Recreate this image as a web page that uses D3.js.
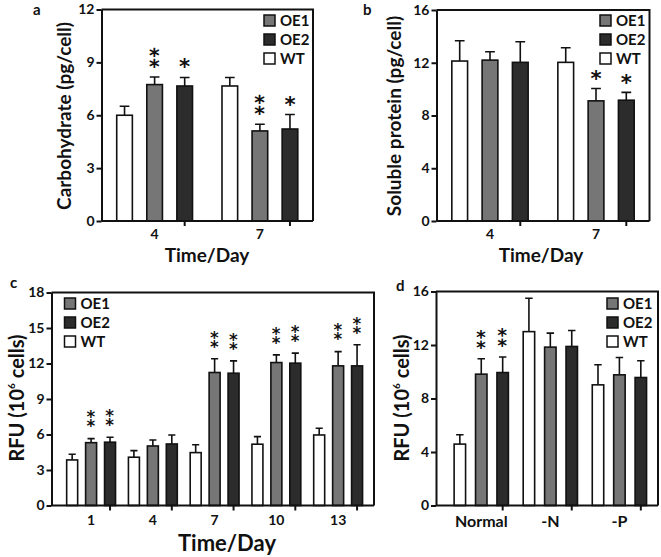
<!DOCTYPE html>
<html><head><meta charset="utf-8">
<script src="https://cdn.jsdelivr.net/npm/d3@7"></script>
<style>
body{margin:0;background:#fff}
svg{display:block}
text{font-family:Lato,"Open Sans",sans-serif;font-weight:bold;fill:#111}
</style>
</head><body>
<script>
// ---------- data ----------
const legendNames = ["OE1", "OE2", "WT"];
const barOrder = ["WT", "OE1", "OE2"];
const fillColors = { OE1: "#767676", OE2: "#2c2c2c", WT: "#ffffff" };

// Panel a: carbohydrate
const aCategories = ["4", "7"];
const aWT = [6.0, 7.66], aWTsd = [0.51, 0.48];
const aOE1 = [7.74, 5.11], aOE1sd = [0.43, 0.38];
const aOE2 = [7.66, 5.22], aOE2sd = [0.48, 0.82];
const aStarsOE1 = ["**", "**"], aStarsOE2 = ["*", "*"];
const aTicks = [0, 3, 6, 9, 12];

// Panel b: soluble protein
const bCategories = ["4", "7"];
const bWT = [12.13, 12.03], bWTsd = [1.54, 1.11];
const bOE1 = [12.2, 9.11], bOE1sd = [0.63, 0.94];
const bOE2 = [12.03, 9.16], bOE2sd = [1.56, 0.59];
const bStarsOE1 = ["", "*"], bStarsOE2 = ["", "*"];
const bTicks = [0, 4, 8, 12, 16];

// Panel c: RFU over time
const cCategories = ["1", "4", "7", "10", "13"];
const cWT = [3.85, 4.08, 4.47, 5.18, 5.96], cWTsd = [0.48, 0.56, 0.67, 0.64, 0.57];
const cOE1 = [5.31, 5.03, 11.24, 12.08, 11.8], cOE1sd = [0.34, 0.51, 1.16, 0.65, 1.2];
const cOE2 = [5.35, 5.2, 11.18, 12.03, 11.8], cOE2sd = [0.42, 0.76, 1.04, 0.85, 1.78];
const cStarsOE1 = ["**", "", "**", "**", "**"], cStarsOE2 = ["**", "", "**", "**", "**"];
const cTicks = [0, 3, 6, 9, 12, 15, 18];

// Panel d: RFU under nutrient conditions
const dCategories = ["Normal", "-N", "-P"];
const dWT = [4.59, 13.0, 9.02], dWTsd = [0.7, 2.5, 1.5];
const dOE1 = [9.82, 11.84, 9.77], dOE1sd = [1.15, 1.05, 1.3];
const dOE2 = [9.94, 11.89, 9.57], dOE2sd = [1.16, 1.19, 1.25];
const dStarsOE1 = ["**", "", ""], dStarsOE2 = ["**", "", ""];
const dTicks = [0, 4, 8, 12, 16];

// ---------- drawing ----------
const svg = d3.select("body").append("svg").attr("width", 661).attr("height", 557);
const STAR_FONT = "'DejaVu Sans'";
const measureCtx = document.createElement("canvas").getContext("2d");
function glyphMetrics(ch) {
  measureCtx.font = `bold 100px ${STAR_FONT}`;
  const m = measureCtx.measureText(ch);
  return { asc: m.actualBoundingBoxAscent / 100, desc: m.actualBoundingBoxDescent / 100 };
}

function panel(cfg) {
  const g = svg.append("g");
  const x0 = d3.scaleBand().domain(cfg.categories).range([cfg.left, cfg.right])
    .paddingInner(cfg.pIn).paddingOuter(cfg.pOut).align(cfg.align);
  const x1 = d3.scaleBand().domain(barOrder).range([0, x0.bandwidth()])
    .paddingInner(cfg.bIn).paddingOuter(cfg.bIn / 2);
  const y = d3.scaleLinear().domain([0, d3.max(cfg.ticks)]).range([cfg.bottom, cfg.top]);

  const rows = [];
  cfg.categories.forEach((c, i) => {
    barOrder.forEach(s => {
      rows.push({ cat: c, s: s, v: cfg.values[s][i], sd: cfg.sds[s][i], star: (cfg.stars[s] || [])[i] || "" });
    });
  });
  const cx = d => x0(d.cat) + x1(d.s) + x1.bandwidth() / 2;

  // error bars (upper only)
  const capW = x1.bandwidth() * cfg.cap;
  g.selectAll(".eb").data(rows).join("path")
    .attr("d", d => `M${cx(d)},${y(d.v)}V${y(d.v + d.sd)}M${cx(d) - capW / 2},${y(d.v + d.sd)}H${cx(d) + capW / 2}`)
    .attr("stroke", "#111").attr("stroke-width", 1.6).attr("fill", "none");

  // bars
  g.selectAll(".bar").data(rows).join("rect")
    .attr("x", d => x0(d.cat) + x1(d.s))
    .attr("width", x1.bandwidth())
    .attr("y", d => y(d.v))
    .attr("height", d => y(0) - y(d.v))
    .attr("fill", d => fillColors[d.s])
    .attr("stroke", "#111").attr("stroke-width", 1.6);

  // significance stars: "*" or "⁑" (two asterisks stacked)
  rows.filter(d => d.star.length).forEach(d => {
    const ch = d.star.length === 2 ? "\u2051" : "*";
    const targetH = d.star.length === 2 ? cfg.star2H : cfg.star1H;
    const m = glyphMetrics(ch);
    const fs = targetH / (m.asc + m.desc);
    const glyphBottom = y(d.v + d.sd) - cfg.starGap;
    g.append("text").attr("text-anchor", "middle")
      .attr("x", cx(d)).attr("y", glyphBottom - m.desc * fs)
      .style("font-family", STAR_FONT).style("font-size", fs.toFixed(2) + "px")
      .text(ch);
  });

  // frame top + right
  g.append("path").attr("d", `M${cfg.left},${cfg.top}H${cfg.right}V${cfg.bottom}`)
    .attr("fill", "none").attr("stroke", "#111").attr("stroke-width", 2);

  // y axis
  const ya = g.append("g").attr("transform", `translate(${cfg.left},0)`)
    .call(d3.axisLeft(y).tickValues(cfg.ticks).tickSize(5).tickSizeOuter(0).tickPadding(2));
  ya.select(".domain").attr("stroke", "#111").attr("stroke-width", 2);
  ya.selectAll(".tick line").attr("stroke", "#111").attr("stroke-width", 2);
  ya.selectAll(".tick text").style("font-size", cfg.tickFont + "px").style("font-family", "Lato").style("font-weight", "bold").attr("fill", "#111");

  // x axis
  const xa = g.append("g").attr("transform", `translate(0,${cfg.bottom})`)
    .call(d3.axisBottom(x0).tickSize(0).tickSizeOuter(0).tickPadding(cfg.xPad));
  xa.select(".domain").attr("stroke", "#111").attr("stroke-width", 2).attr("d", `M${cfg.left},0H${cfg.right}`);
  xa.selectAll(".tick text").style("font-size", cfg.xFont + "px").style("font-family", "Lato").style("font-weight", "bold").attr("fill", "#111");
  // tick marks at the last bar of each group
  g.selectAll(".xt").data(cfg.categories).join("line")
    .attr("x1", c => x0(c) + x1("OE2") + x1.bandwidth() / 2)
    .attr("x2", c => x0(c) + x1("OE2") + x1.bandwidth() / 2)
    .attr("y1", cfg.bottom).attr("y2", cfg.bottom + 5)
    .attr("stroke", "#111").attr("stroke-width", 2);

  // legend
  legendNames.forEach((n, i) => {
    const ly = cfg.legY + i * cfg.legStep;
    g.append("rect").attr("x", cfg.legX).attr("y", ly - 5.5).attr("width", 11).attr("height", 11)
      .attr("fill", fillColors[n]).attr("stroke", "#111").attr("stroke-width", 1.5);
    g.append("text").attr("x", cfg.legX + 16).attr("y", ly + 5.5).text(n).style("font-size", "15px");
  });

  // y title
  const yt = g.append("text").attr("transform", `translate(${cfg.yTitleX},${cfg.yTitleY}) rotate(-90)`)
    .attr("text-anchor", "middle").style("font-size", cfg.yTitleFont + "px");
  if (cfg.yTitleSup) {
    yt.append("tspan").text(cfg.yTitle[0]);
    yt.append("tspan").text(cfg.yTitleSup).attr("dy", -9).style("font-size", "10px");
    yt.append("tspan").text(cfg.yTitle[1]).attr("dy", 9);
  } else {
    yt.text(cfg.yTitle);
  }
  // x title
  if (cfg.xTitle) {
    g.append("text").attr("x", cfg.xTitleX).attr("y", cfg.xTitleY).attr("text-anchor", "middle")
      .text(cfg.xTitle).style("font-size", cfg.xTitleFont + "px");
  }
  // panel letter
  g.append("text").attr("x", cfg.letterX).attr("y", cfg.letterY).text(cfg.letter).style("font-size", "15px");
}

panel({
  categories: aCategories, values: { WT: aWT, OE1: aOE1, OE2: aOE2 }, sds: { WT: aWTsd, OE1: aOE1sd, OE2: aOE2sd },
  stars: { OE1: aStarsOE1, OE2: aStarsOE2 }, ticks: aTicks,
  left: 101.5, right: 313, top: 9.5, bottom: 221, pIn: 0.143, pOut: 0.076, align: 0.5, bIn: 0.48, cap: 0.62,
  starGap: 9, star1H: 10, star2H: 21, tickFont: 14, xFont: 14, xPad: 8,
  legX: 264, legY: 20.5, legStep: 19,
  yTitle: "Carbohydrate (pg/cell)", yTitleX: 71, yTitleY: 116, yTitleFont: 19,
  xTitle: "Time/Day", xTitleX: 207, xTitleY: 262, xTitleFont: 19,
  letter: "a", letterX: 33, letterY: 15
});
panel({
  categories: bCategories, values: { WT: bWT, OE1: bOE1, OE2: bOE2 }, sds: { WT: bWTsd, OE1: bOE1sd, OE2: bOE2sd },
  stars: { OE1: bStarsOE1, OE2: bStarsOE2 }, ticks: bTicks,
  left: 436.5, right: 649.5, top: 10, bottom: 221, pIn: 0.143, pOut: 0.076, align: 0.5, bIn: 0.48, cap: 0.62,
  starGap: 8.5, star1H: 10, star2H: 21, tickFont: 14, xFont: 14, xPad: 8,
  legX: 600, legY: 20.5, legStep: 19,
  yTitle: "Soluble protein (pg/cell)", yTitleX: 401, yTitleY: 116, yTitleFont: 19,
  xTitle: "Time/Day", xTitleX: 541, xTitleY: 262, xTitleFont: 19,
  letter: "b", letterX: 363, letterY: 15
});
panel({
  categories: cCategories, values: { WT: cWT, OE1: cOE1, OE2: cOE2 }, sds: { WT: cWTsd, OE1: cOE1sd, OE2: cOE2sd },
  stars: { OE1: cStarsOE1, OE2: cStarsOE2 }, ticks: cTicks,
  left: 51.5, right: 374, top: 292.5, bottom: 505.5, pIn: 0.08, pOut: 0.151, align: 0.6, bIn: 0.42, cap: 0.65,
  starGap: 11, star1H: 8, star2H: 17, tickFont: 14, xFont: 14, xPad: 10,
  legX: 64.5, legY: 303.5, legStep: 19,
  yTitle: ["RFU (10", " cells)"], yTitleSup: "6", yTitleX: 24, yTitleY: 398, yTitleFont: 20,
  xTitle: "Time/Day", xTitleX: 227, xTitleY: 551, xTitleFont: 22,
  letter: "c", letterX: 10, letterY: 288
});
panel({
  categories: dCategories, values: { WT: dWT, OE1: dOE1, OE2: dOE2 }, sds: { WT: dWTsd, OE1: dOE1sd, OE2: dOE2sd },
  stars: { OE1: dStarsOE1, OE2: dStarsOE2 }, ticks: dTicks,
  left: 436, right: 658, top: 291.5, bottom: 505.5, pIn: 0.07, pOut: 0.142, align: 0.67, bIn: 0.465, cap: 0.65,
  starGap: 10, star1H: 9, star2H: 19, tickFont: 14, xFont: 16, xPad: 10,
  legX: 607, legY: 303.5, legStep: 19,
  yTitle: ["RFU (10", " cells)"], yTitleSup: "6", yTitleX: 409, yTitleY: 398, yTitleFont: 20,
  xTitle: null,
  letter: "d", letterX: 396, letterY: 291
});
</script>
</body></html>
